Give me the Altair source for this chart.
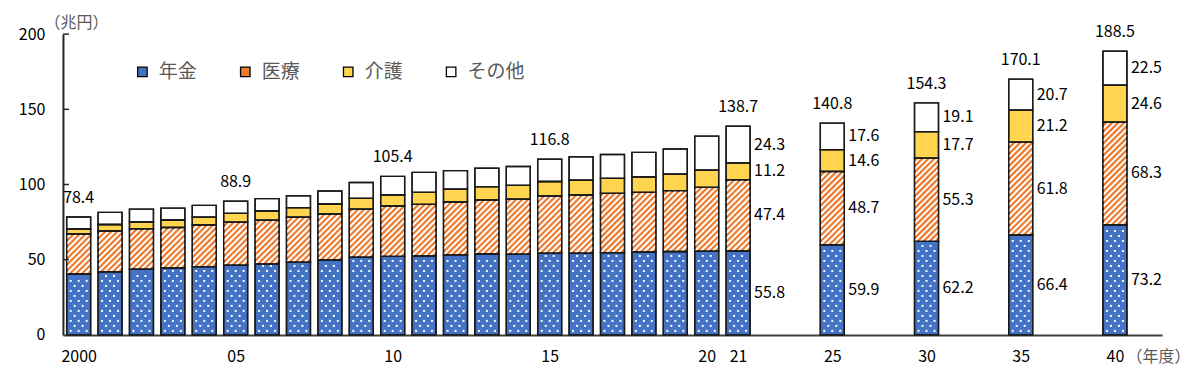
import altair as alt
import pandas as pd
import numpy as np

FONT = "Noto Sans CJK JP"

# ---------------- data ----------------
years = list(range(2000, 2022)) + [2025, 2030, 2035, 2040]
pension = [40.5, 42.0, 43.6, 44.5, 45.4, 46.3, 47.2, 48.3, 49.8, 51.6, 52.2,
           52.5, 53.2, 53.8, 53.6, 54.3, 54.3, 54.7, 55.1, 55.4, 55.6, 55.8,
           59.9, 62.2, 66.4, 73.2]
medical = [26.6, 27.1, 26.9, 26.9, 27.7, 28.6, 29.0, 29.9, 30.6, 31.9, 33.5,
           34.3, 35.2, 35.9, 36.6, 38.1, 38.7, 39.4, 39.7, 40.5, 42.5, 47.4,
           48.7, 55.3, 61.8, 68.3]
care = [3.3, 4.3, 4.6, 5.0, 5.2, 5.9, 6.2, 6.4, 6.6, 7.3, 7.5,
        8.0, 8.5, 8.9, 9.2, 9.6, 9.8, 10.0, 10.4, 10.9, 11.4, 11.2,
        14.6, 17.7, 21.2, 24.6]
other = [8.0, 8.1, 8.5, 7.9, 7.8, 8.1, 8.2, 7.9, 8.7, 10.5, 12.2,
         13.3, 12.3, 12.2, 12.6, 14.8, 15.7, 15.9, 16.2, 16.8, 22.7, 24.3,
         17.6, 19.1, 20.7, 22.5]

total_label_years = [2000, 2005, 2010, 2015, 2021, 2025, 2030, 2035, 2040]
total_label_texts = ["78.4", "88.9", "105.4", "116.8", "138.7", "140.8", "154.3", "170.1", "188.5"]
segment_label_years = [2021, 2025, 2030, 2035, 2040]

series = ["年金", "医療", "介護", "その他"]
colors = ["#4472C4", "#ED7D31", "#FFD54F", "#FFFFFF"]

y_ticks = [0, 50, 100, 150, 200]
x_tick_years = [2000, 2005, 2010, 2015, 2020, 2021, 2025, 2030, 2035, 2040]
x_tick_texts = ["2000", "05", "10", "15", "20", "21", "25", "30", "35", "40"]

# ---------------- layout helpers ----------------
W, H = 1100, 301
XDOM = [-0.5, 34.5]
YDOM = [0, 200]
kx = W / (XDOM[1] - XDOM[0])   # px per x unit
ky = H / (YDOM[1] - YDOM[0])   # px per y unit
BAR_PX = 24
half = BAR_PX / 2 / kx


def slot(y):
    return y - 2000 if y <= 2021 else 21 + 3 * ((y - 2025) // 5 + 1)


xs = alt.Scale(domain=XDOM, nice=False, zero=False)
ys = alt.Scale(domain=YDOM, nice=False)

rows = []
for i, yr in enumerate(years):
    p = slot(yr)
    base = 0.0
    for s, vals in zip(series, [pension, medical, care, other]):
        v = vals[i]
        rows.append(dict(year=yr, pos=p, x0=p - half, x1=p + half, series=s,
                         value=v, y0=base, y1=base + v, ymid=base + v / 2,
                         label=f"{v:.1f}", xr=p + half))
        base += v
df = pd.DataFrame(rows)

# stripes for 医療 (diagonal white lines over orange)
stripe_rows = []
pitch = 6.0
for _, r in df[df.series == "医療"].iterrows():
    hpx = (r.y1 - r.y0) * ky
    c = -BAR_PX
    while c < hpx:
        a = max(0.0, -c)
        b = min(BAR_PX, hpx - c)
        if b - a > 0.3:
            stripe_rows.append(dict(xa=r.x0 + a / kx, xb=r.x0 + b / kx,
                                    ya=r.y0 + (a + c) / ky, yb=r.y0 + (b + c) / ky))
        c += pitch
stripes = pd.DataFrame(stripe_rows)

# dots for 年金
dot_rows = []
for _, r in df[df.series == "年金"].iterrows():
    hpx = (r.y1 - r.y0) * ky
    py = 4.0
    k = 0
    while py < hpx - 2:
        for px in ([4, 12, 20] if k % 2 == 0 else [8, 16]):
            dot_rows.append(dict(x=r.x0 + px / kx, y=r.y0 + py / ky))
        py += 5.0
        k += 1
dots = pd.DataFrame(dot_rows)

label_expr = "[" + ",".join(f"'{t}'" for t in x_tick_texts) + "][indexof([" + \
    ",".join(str(slot(y)) for y in x_tick_years) + "], datum.value)]"

x_axis = alt.Axis(values=[slot(y) for y in x_tick_years], labelExpr=label_expr,
                  title="（年度）", titleX=1064, titleY=22, titleAlign="left",
                  titleBaseline="middle", titleFontSize=16, titleFontWeight="normal",
                  titleColor="#595959", titleLimit=300, grid=False, ticks=False, tickSize=0,
                  domainColor="#404040", domainWidth=2, labelFontSize=16,
                  labelColor="#000000", labelPadding=22, labelBaseline="middle",
                  labelFlush=False, labelOverlap=False)
y_axis = alt.Axis(values=y_ticks, title="（兆円）", titleAngle=0, titleX=-19,
                  titleY=-12, titleAlign="left", titleBaseline="middle",
                  titleColor="#595959", titleFontSize=16, titleFontWeight="normal",
                  titleLimit=300, grid=False, ticks=False, tickSize=0, domainColor="#262626",
                  domainWidth=2, labelFontSize=16, labelPadding=18,
                  labelColor="#000000")

bars = alt.Chart(df).mark_bar(stroke="#1a1a1a", strokeWidth=1.4).encode(
    x=alt.X("x0:Q", scale=xs, axis=x_axis),
    x2="x1:Q",
    y=alt.Y("y0:Q", scale=ys, axis=y_axis),
    y2="y1:Q",
    color=alt.Color("series:N", scale=alt.Scale(domain=series, range=colors),
                    legend=alt.Legend(title=None, orient="none", legendX=70, legendY=28,
                                      direction="horizontal", columns=4,
                                      symbolType="square", symbolSize=90,
                                      symbolStrokeColor="#000000", symbolStrokeWidth=1.3,
                                      labelFontSize=19, labelColor="#595959",
                                      labelOffset=7, columnPadding=38, padding=0)),
)

stripe_layer = alt.Chart(stripes).mark_rule(color="#FFFFFF", strokeWidth=2.0, strokeCap="butt").encode(
    x=alt.X("xa:Q", scale=xs, axis=x_axis), x2="xb:Q",
    y=alt.Y("ya:Q", scale=ys, axis=y_axis), y2="yb:Q")

dot_layer = alt.Chart(dots).mark_square(size=4, color="#FFFFFF", opacity=1, filled=True).encode(
    x=alt.X("x:Q", scale=xs, axis=x_axis),
    y=alt.Y("y:Q", scale=ys, axis=y_axis))

outline = alt.Chart(df).mark_bar(filled=False, stroke="#1a1a1a", strokeWidth=1.4).encode(
    x=alt.X("x0:Q", scale=xs, axis=x_axis), x2="x1:Q",
    y=alt.Y("y0:Q", scale=ys, axis=y_axis), y2="y1:Q")

yticks = alt.Chart(pd.DataFrame({"v": y_ticks[1:]})).mark_rule(color="#262626", strokeWidth=1.5).encode(
    y=alt.Y("v:Q", scale=ys, axis=y_axis), x=alt.value(0), x2=alt.value(6))

tot = df.groupby("year").agg(pos=("pos", "first"), top=("y1", "max")).reset_index()
tot = tot[tot.year.isin(total_label_years)].copy()
tot["text"] = [total_label_texts[total_label_years.index(y)] for y in tot.year]
total_text = alt.Chart(tot).mark_text(fontSize=16, baseline="middle", dy=-19, color="#000000").encode(
    x=alt.X("pos:Q", scale=xs, axis=x_axis),
    y=alt.Y("top:Q", scale=ys, axis=y_axis),
    text="text:N")

seg = df[df.year.isin(segment_label_years)]
seg_text = alt.Chart(seg).mark_text(fontSize=16, baseline="middle", align="left", dx=4, color="#000000").encode(
    x=alt.X("xr:Q", scale=xs, axis=x_axis),
    y=alt.Y("ymid:Q", scale=ys, axis=y_axis),
    text="label:N")

chart = alt.layer(bars, stripe_layer, dot_layer, outline, yticks, total_text, seg_text).properties(
    width=W, height=H,
    autosize=alt.AutoSizeParams(type="none"),
    padding={"left": 55, "top": 26, "right": 30, "bottom": 40},
).configure(font=FONT).configure_view(stroke="transparent")

chart.save("out.html", embed_options={"renderer": "svg", "actions": False})
